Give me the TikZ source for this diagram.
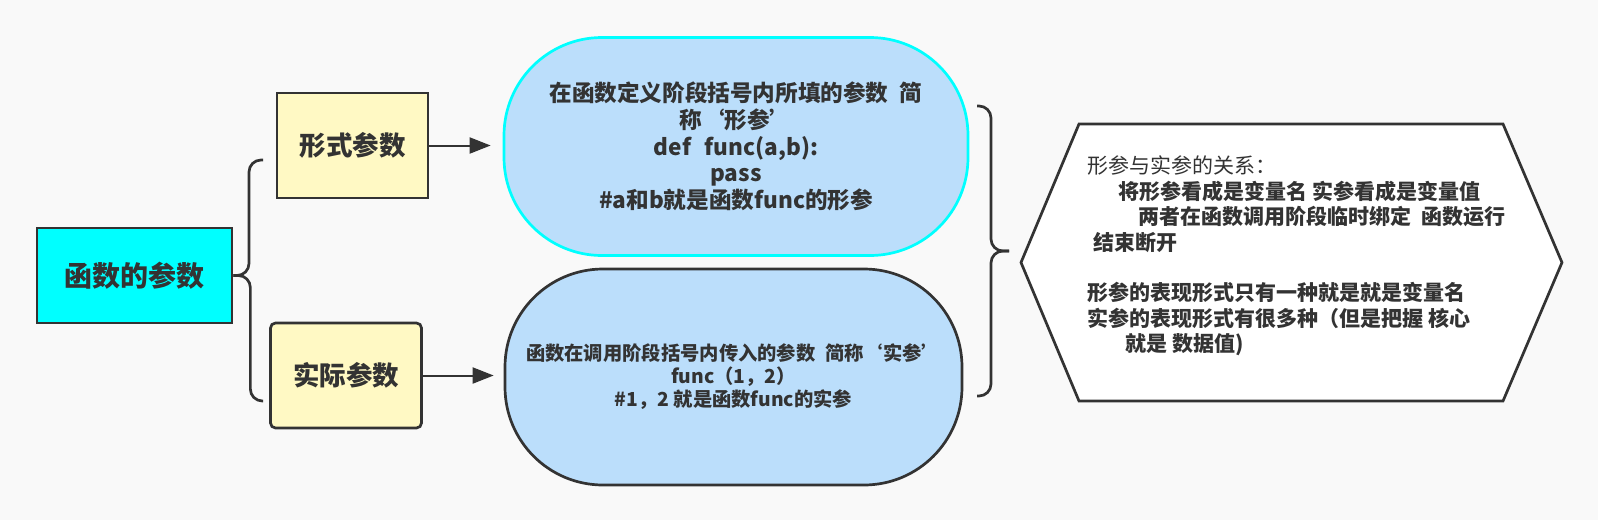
\documentclass[tikz,border=0pt]{standalone}
\usepackage{fontspec}
\setmainfont{Noto Sans CJK SC}
\usetikzlibrary{arrows.meta}
\definecolor{bg}{HTML}{F9F9F9}
\definecolor{txt}{HTML}{333333}
\definecolor{ln}{HTML}{333333}
\definecolor{cyanc}{HTML}{00FFFF}
\definecolor{yel}{HTML}{FFF9C4}
\definecolor{stad}{HTML}{BBDEFB}
\tikzset{
  base/.style={text=txt, font=\bfseries, inner sep=0pt},
  rootbox/.style={base, draw=ln, fill=cyanc, line width=2.7pt, minimum width=195pt, minimum height=95pt, font=\bfseries\fontsize{28}{34}\selectfont},
  kidbox/.style={base, draw=ln, fill=yel, line width=2.7pt, minimum width=151pt, minimum height=105pt, font=\bfseries\fontsize{26.5}{32}\selectfont},
  stadbox/.style={base, fill=stad, line width=2.7pt, rounded corners=98pt, align=center},
  hexline/.style={draw=ln, fill=white, line width=2.7pt, line join=miter},
  brace/.style={draw=ln, line width=2.7pt, rounded corners=12pt},
  arr/.style={draw=ln, line width=2pt, -{Triangle[length=21pt,width=16pt]}}
}
\begin{document}
\begin{tikzpicture}[x=1pt,y=-1pt]
\path[fill=bg] (0,0) rectangle (1598,520);
\useasboundingbox (0,0) rectangle (1598,520);

\node[rootbox] (root) at (134.5,275.5) {函数的参数};
\node[kidbox] (formal) at (352.5,145.5) {形式参数};
\node[kidbox, rounded corners=5pt] (actual) at (346,375.5) {实际参数};

\node[stadbox, draw=cyanc, minimum width=464pt, minimum height=218pt,
      font=\bfseries\fontsize{22.6}{26.7}\selectfont] (top) at (736,146.5)
  {在函数定义阶段括号内所填的参数\hspace{0.5em}简\\
   称‘形参’\\
   def\hspace{0.6em}func(a,b):\\
   pass\\
   \#a和b就是函数func的形参};

\node[stadbox, draw=ln, minimum width=457pt, minimum height=216pt,
      font=\bfseries\fontsize{19.3}{23}\selectfont] (bottom) at (733.5,377)
  {函数在调用阶段括号内传入的参数\hspace{0.5em}简称‘实参’\\
   func（1，2）\\
   \#1，2 就是函数func的实参};

% hexagon
\coordinate (hL) at (1021,262.5);
\coordinate (hTL) at (1079,124);
\coordinate (hTR) at (1503,124);
\coordinate (hR) at (1562,262.5);
\coordinate (hBR) at (1503,401);
\coordinate (hBL) at (1079,401);
\draw[hexline] (hL) -- (hTL) -- (hTR) -- (hR) -- (hBR) -- (hBL) -- cycle;
\node[base, anchor=west, align=left, font=\bfseries\fontsize{21}{25.43}\selectfont] (rel) at (1087,256)
  {{\mdseries 形参与实参的关系：}\\
   \hspace*{31pt}将形参看成是变量名 实参看成是变量值\\
   \hspace*{51pt}两者在函数调用阶段临时绑定\hspace{0.5em}函数运行\\
   \hspace*{6pt}结束断开\\[25.43pt]
   形参的表现形式只有一种就是就是变量名\\
   实参的表现形式有很多种（但是把握 核心\\
   \hspace*{38pt}就是 数据值)};

% left brace
\coordinate (bT) at (263,160);
\coordinate (bB) at (263,401);
\draw[brace] (bT) -- ++(-14,0) |- (root.east);
\draw[brace] (root.east) -- ++(17,0) |- (bB);

% right brace
\coordinate (rT) at (977,106);
\coordinate (rB) at (977,396);
\coordinate (rTip) at (1009,251);
\draw[brace] (rT) -- ++(14,0) |- (rTip);
\draw[brace] (rTip) -- ++(-18,0) |- (rB);

% arrows
\draw[arr, shorten >=12pt] (formal.east) -- (formal.east -| top.west);
\draw[arr, shorten >=10pt] (actual.east) -- (actual.east -| bottom.west);
\end{tikzpicture}
\end{document}
